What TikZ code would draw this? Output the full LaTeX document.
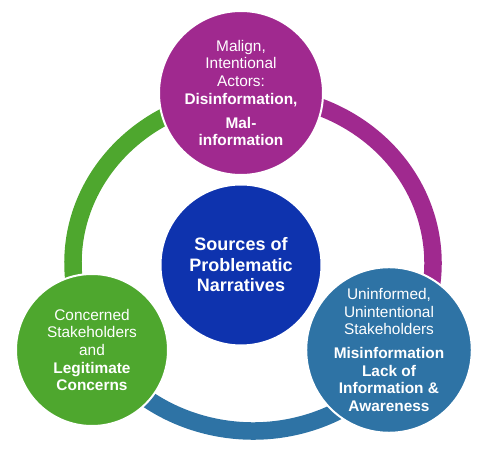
\documentclass[tikz,border=0pt]{standalone}
\usepackage{fontspec}
\setmainfont{Liberation Sans}
\usepackage{tikz}

\definecolor{malignpurple}{RGB}{160,41,143}
\definecolor{corenavy}{RGB}{14,51,174}
\definecolor{concerngreen}{RGB}{78,167,46}
\definecolor{uninfblue}{RGB}{46,115,165}

\begin{document}
\begin{tikzpicture}[
            x = 1pt, y = 1pt, % one unit per pixel
            font = \fontsize{15.4}{17.7}\selectfont,
            text = white,
            ring/.style = {line width = 17.5pt} % the outer band
        ]

        \tikzstyle{source}=[
            circle,
            draw = white,
            line width = 2pt,
            align = center,
            inner sep = 0pt
        ]

        \useasboundingbox (0, 0) rectangle (480, 458);

        % band round the middle, one colour per part
        \coordinate (R) at (253, 195);
        \draw[ring, concerngreen] (R) ++(94:180 and 168)
            arc[start angle = 94, end angle = 210, x radius = 180, y radius = 168];
        \draw[ring, uninfblue] (R) ++(210:180 and 168)
            arc[start angle = 210, end angle = 326, x radius = 180, y radius = 168];
        \draw[ring, malignpurple] (R) ++(-34:180 and 168)
            arc[start angle = -34, end angle = 94, x radius = 180, y radius = 168];

        \node[source, fill = corenavy, minimum size = 161pt,
            font = \fontsize{18}{20.5}\selectfont\bfseries] (core) at (241, 193)
            {Sources of\\Problematic\\Narratives};
        \node[source, fill = malignpurple, minimum size = 164pt] (malign) at (241, 365)
            {Malign,\\Intentional\\Actors:\\\textbf{Disinformation,}\\[6pt]\textbf{Mal-}\\\textbf{information}};
        \node[source, fill = concerngreen, minimum size = 152pt] (concerned) at (92, 108)
            {Concerned\\Stakeholders\\and\\\textbf{Legitimate}\\\textbf{Concerns}};
        \node[source, fill = uninfblue, minimum size = 161pt] (uninformed) at (389, 108)
            {Uninformed,\\Unintentional\\Stakeholders\\[6pt]\textbf{Misinformation}\\\textbf{Lack of}\\\textbf{Information \&}\\\textbf{Awareness}};

        %\draw[red] (0, 0) rectangle (480, 458);
    \end{tikzpicture}
\end{document}
